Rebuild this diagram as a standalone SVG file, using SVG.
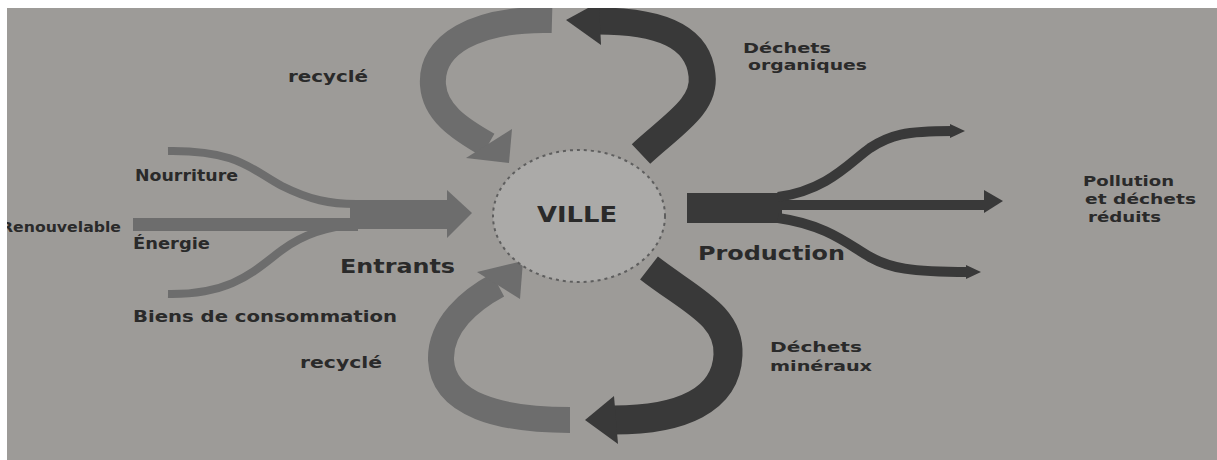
<svg xmlns="http://www.w3.org/2000/svg" width="1217" height="460" viewBox="0 0 1217 460">
  <style>
    .lbl { font-family: "DejaVu Sans", "Liberation Sans", sans-serif; font-weight: bold; fill: #2a2a2a; }
    .light { fill: none; stroke: #6d6d6d; stroke-linecap: butt; }
    .dark { fill: none; stroke: #393939; stroke-linecap: butt; }
    .lightF { fill: #6d6d6d; }
    .darkF { fill: #393939; }
  </style>
  <rect x="0" y="0" width="1217" height="460" fill="#9d9b98"/>

  <g id="connectors">
    <g id="recycle-top">
      <path class="light" stroke-width="26" d="M552,20 C475,18 430,45 433,85 C435,112 458,128 488,145"/>
      <polygon class="lightF" points="466,158 512,129 509,163"/>
    </g>
    <g id="dechets-organiques">
      <path class="dark" stroke-width="27" d="M641,154 C672,125 706,106 702,75 C698,36 660,21 598,21"/>
      <polygon class="darkF" points="599,2 566,20 601,45"/>
    </g>
    <g id="recycle-bottom">
      <path class="light" stroke-width="26" d="M570,420 C500,420 443,405 441,360 C440,325 470,300 498,285"/>
      <polygon class="lightF" points="477,272 523,261 520,299"/>
    </g>
    <g id="dechets-mineraux">
      <path class="dark" stroke-width="29" d="M649,268 C690,300 730,315 728,355 C726,400 682,420 614,420"/>
      <polygon class="darkF" points="585,420 614,396 618,444"/>
    </g>
    <g id="entrants">
      <path class="light" stroke-width="8" d="M168,151 C238,150 252,170 282,186 C310,200 330,204 356,204"/>
      <path class="light" stroke-width="8" d="M168,294 C233,295 255,270 282,250 C305,233 330,226 356,225"/>
      <rect class="lightF" x="133" y="218" width="225" height="13"/>
      <rect class="lightF" x="350" y="200" width="98" height="29"/>
      <polygon class="lightF" points="447,190 472,213 447,238"/>
    </g>
    <g id="production">
      <rect class="darkF" x="687" y="193" width="95" height="30"/>
      <path class="dark" stroke-width="10" d="M778,205 L986,205"/>
      <polygon class="darkF" points="984,190 1003,201 984,213"/>
      <path class="dark" stroke-width="10" d="M778,197 C828,190 850,162 870,148 C890,135 905,131 952,131"/>
      <polygon class="darkF" points="950,124 965,131 950,138"/>
      <path class="dark" stroke-width="10" d="M778,218 C828,225 850,246 870,257 C890,268 910,272 968,272"/>
      <polygon class="darkF" points="966,265 981,272 966,279"/>
    </g>
  </g>

  <g id="ville">
    <ellipse cx="579" cy="216" rx="86" ry="66" fill="#abaaa8" stroke="#5e5e5e" stroke-width="2" stroke-dasharray="3 4"/>
    <text class="lbl" x="537" y="222" font-size="22" textLength="80" lengthAdjust="spacingAndGlyphs">VILLE</text>
  </g>

  <g id="labels">
    <text class="lbl" x="288" y="82" font-size="15" textLength="80" lengthAdjust="spacingAndGlyphs">recyclé</text>
    <text class="lbl" x="743" y="53" font-size="14" textLength="88" lengthAdjust="spacingAndGlyphs">Déchets</text>
    <text class="lbl" x="748" y="70" font-size="14" textLength="119" lengthAdjust="spacingAndGlyphs">organiques</text>
    <text class="lbl" x="135" y="181" font-size="15" textLength="103" lengthAdjust="spacingAndGlyphs">Nourriture</text>
    <text class="lbl" x="1" y="232" font-size="14" textLength="120" lengthAdjust="spacingAndGlyphs">Renouvelable</text>
    <text class="lbl" x="133" y="249" font-size="15" textLength="77" lengthAdjust="spacingAndGlyphs">Énergie</text>
    <text class="lbl" x="340" y="273" font-size="20" textLength="115" lengthAdjust="spacingAndGlyphs">Entrants</text>
    <text class="lbl" x="133" y="322" font-size="16" textLength="264" lengthAdjust="spacingAndGlyphs">Biens de consommation</text>
    <text class="lbl" x="300" y="368" font-size="15" textLength="82" lengthAdjust="spacingAndGlyphs">recyclé</text>
    <text class="lbl" x="698" y="260" font-size="20" textLength="147" lengthAdjust="spacingAndGlyphs">Production</text>
    <text class="lbl" x="1083" y="186" font-size="14" textLength="91" lengthAdjust="spacingAndGlyphs">Pollution</text>
    <text class="lbl" x="1085" y="204" font-size="14" textLength="111" lengthAdjust="spacingAndGlyphs">et déchets</text>
    <text class="lbl" x="1088" y="222" font-size="14" textLength="73" lengthAdjust="spacingAndGlyphs">réduits</text>
    <text class="lbl" x="770" y="352" font-size="14" textLength="92" lengthAdjust="spacingAndGlyphs">Déchets</text>
    <text class="lbl" x="770" y="371" font-size="14" textLength="102" lengthAdjust="spacingAndGlyphs">minéraux</text>
  </g>

  <rect x="0" y="0" width="1217" height="8" fill="#ffffff"/>
  <rect x="0" y="0" width="7" height="460" fill="#ffffff"/>
</svg>
